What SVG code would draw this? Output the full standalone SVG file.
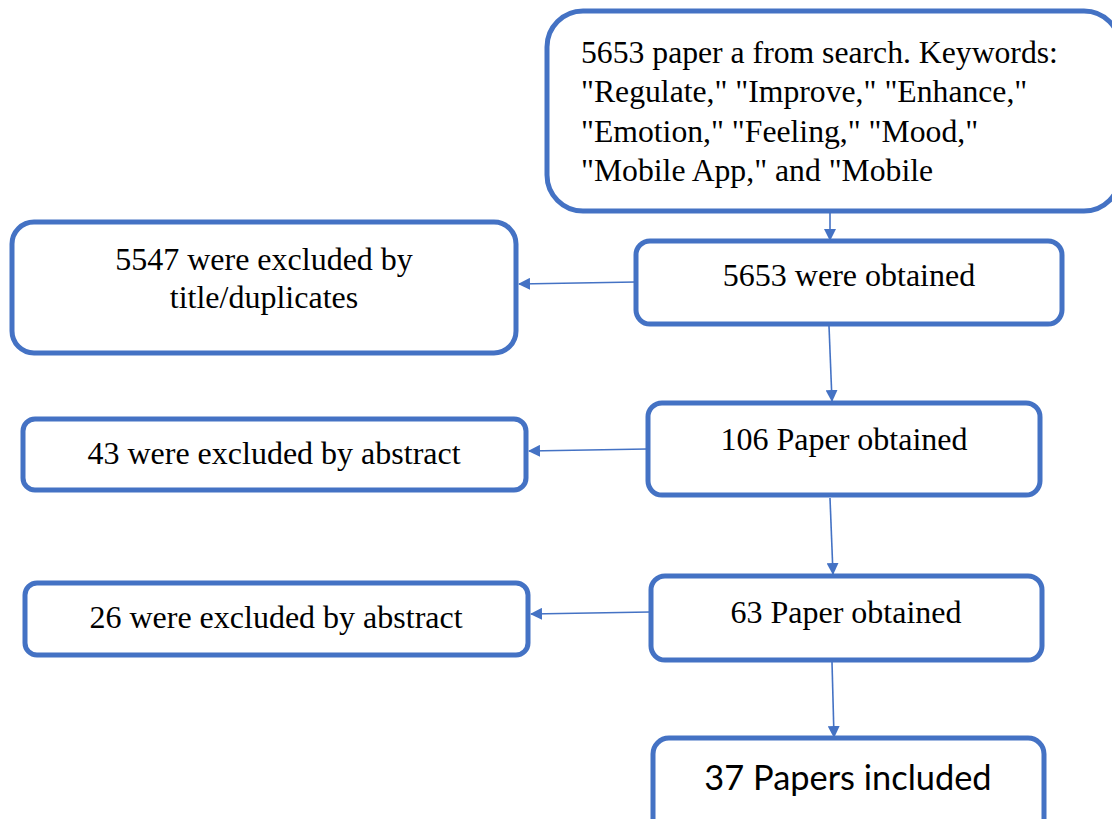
<svg xmlns="http://www.w3.org/2000/svg" width="1112" height="819" viewBox="0 0 1112 819">
  <style>
    .box { fill: #ffffff; stroke: #4472C4; stroke-width: 5; }
    .lbl { font-family: "Liberation Serif", "Times New Roman", serif; font-size: 32px; fill: #000000; text-anchor: middle; }
    .kw { font-family: "Liberation Serif", "Times New Roman", serif; font-size: 31.7px; fill: #000000; }
    .sans { font-family: Lato, "Open Sans", sans-serif; font-size: 34.4px; fill: #000000; text-anchor: middle; }
    .link { stroke: #4472C4; stroke-width: 1.6; fill: none; marker-end: url(#head); }
  </style>
  <defs>
    <marker id="head" viewBox="0 0 12 12" refX="11" refY="6" markerWidth="12" markerHeight="12" markerUnits="userSpaceOnUse" orient="auto">
      <path d="M0,0 L12,6 L0,12 Z" fill="#4472C4"/>
    </marker>
  </defs>

  <rect width="1112" height="819" fill="#ffffff"/>

  <g id="connectors">
    <line class="link" x1="830" y1="212" x2="830" y2="240"/>
    <line class="link" x1="636" y1="282" x2="519" y2="284"/>
    <line class="link" x1="829" y1="326" x2="832" y2="401"/>
    <line class="link" x1="647" y1="449" x2="529" y2="451"/>
    <line class="link" x1="830" y1="498" x2="833" y2="574"/>
    <line class="link" x1="650" y1="612" x2="531" y2="614"/>
    <line class="link" x1="832" y1="662" x2="834" y2="737"/>
  </g>

  <g id="search">
    <rect class="box" x="547" y="11" width="573" height="200" rx="36"/>
    <text class="kw" x="581" y="63">5653 paper a from search. Keywords:</text>
    <text class="kw" x="581" y="102">"Regulate," "Improve," "Enhance,"</text>
    <text class="kw" x="581" y="142">"Emotion," "Feeling," "Mood,"</text>
    <text class="kw" x="581" y="181">"Mobile App," and "Mobile</text>
  </g>

  <g id="obtained5653">
    <rect class="box" x="636" y="241" width="426" height="83" rx="14"/>
    <text class="lbl" x="849" y="286">5653 were obtained</text>
  </g>

  <g id="excludedTitle">
    <rect class="box" x="12" y="222" width="504" height="131" rx="22"/>
    <text class="lbl" x="264" y="270">5547 were excluded by</text>
    <text class="lbl" x="264" y="308">title/duplicates</text>
  </g>

  <g id="obtained106">
    <rect class="box" x="648" y="403" width="392" height="92" rx="14"/>
    <text class="lbl" x="844" y="450">106 Paper obtained</text>
  </g>

  <g id="excludedAbstract43">
    <rect class="box" x="23" y="419" width="503" height="71" rx="12"/>
    <text class="lbl" x="274" y="464">43 were excluded by abstract</text>
  </g>

  <g id="obtained63">
    <rect class="box" x="651" y="576" width="391" height="84" rx="14"/>
    <text class="lbl" x="846" y="623">63 Paper obtained</text>
  </g>

  <g id="excludedAbstract26">
    <rect class="box" x="25" y="583" width="503" height="72" rx="12"/>
    <text class="lbl" x="276" y="628">26 were excluded by abstract</text>
  </g>

  <g id="included">
    <rect class="box" x="653" y="738" width="391" height="100" rx="16"/>
    <text class="sans" x="848" y="790">37 Papers included</text>
  </g>
</svg>
